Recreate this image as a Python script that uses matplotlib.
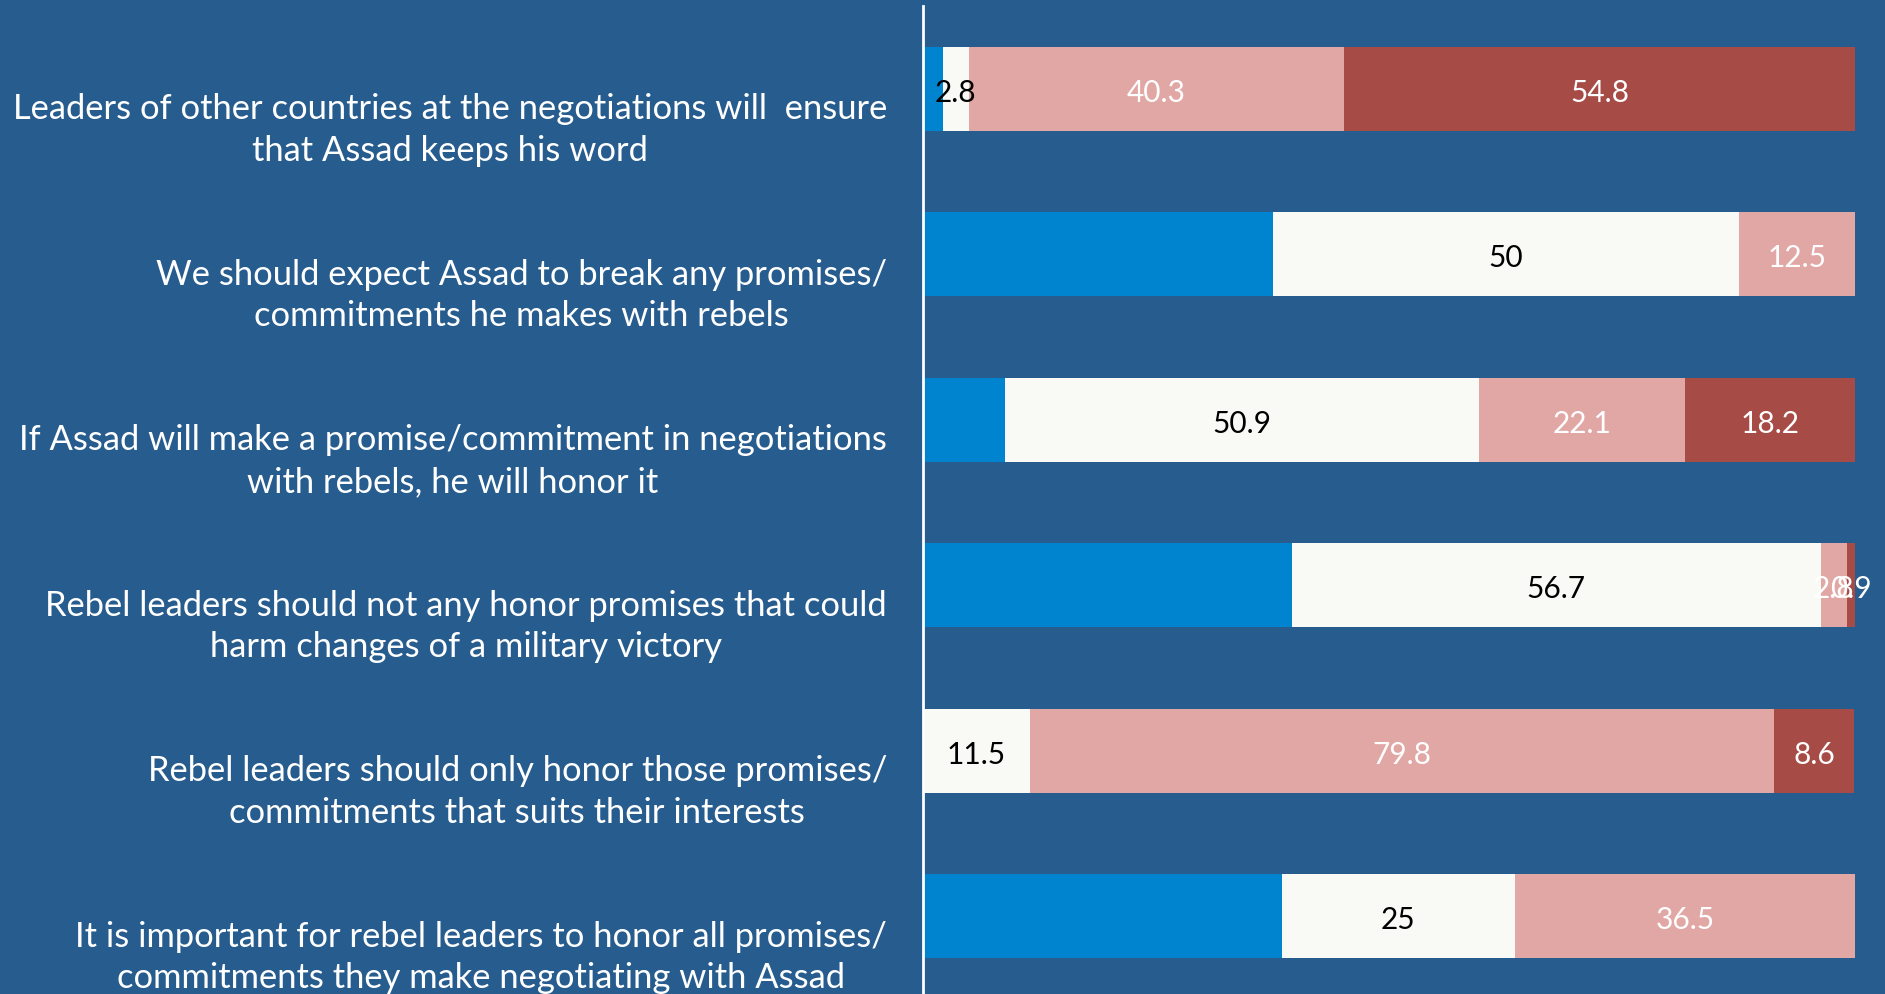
import numpy as np
import matplotlib.pyplot as plt

statements = [
    "Leaders of other countries at the negotiations will  ensure\nthat Assad keeps his word",
    "We should expect Assad to break any promises/\ncommitments he makes with rebels",
    "If Assad will make a promise/commitment in negotiations\nwith rebels, he will honor it",
    "Rebel leaders should not any honor promises that could\nharm changes of a military victory",
    "Rebel leaders should only honor those promises/\ncommitments that suits their interests",
    "It is important for rebel leaders to honor all promises/\ncommitments they make negotiating with Assad",
]

# percentages per answer category, one entry per statement
blue_vals = [2.1, 37.5, 8.8, 39.6, 0.0, 38.5]
white_vals = [2.8, 50.0, 50.9, 56.7, 11.5, 25.0]
pink_vals = [40.3, 12.5, 22.1, 2.8, 79.8, 36.5]
red_vals = [54.8, 0.0, 18.2, 0.9, 8.6, 0.0]

bg = "#275c8e"
series = [
    (blue_vals, "#0084cf", None),
    (white_vals, "#f9faf5", "black"),
    (pink_vals, "#e1a7a5", "white"),
    (red_vals, "#a64b45", "white"),
]

plt.rcParams['font.family'] = ['Lato', 'DejaVu Sans']

fig = plt.figure(figsize=(18.85, 9.94), dpi=100, facecolor=bg)
ax = fig.add_axes([923 / 1885, -5 / 994, 962 / 1885, 993 / 994])
ax.set_facecolor(bg)

y = np.arange(len(statements))
left = np.zeros(len(statements))
for vals, color, txtcolor in series:
    vals = np.array(vals)
    ax.barh(y, vals, left=left, height=0.51, color=color, edgecolor="none")
    if txtcolor is not None:
        for yi, l, v in zip(y, left, vals):
            if v > 0:
                ax.text(l + v / 2, yi + 0.01, f"{v:g}", ha="center",
                        va="center_baseline", color=txtcolor, fontsize=21.5)
    left += vals

ax.set_xlim(0, 100 * 962 / 932)
ax.set_ylim(len(statements) - 0.5, -0.5)

for yi, s in zip(y, statements):
    ax.text(-36 / 932 * 100, yi + 0.25, s, ha="right", va="center",
            multialignment="center", color="white", fontsize=24.8,
            linespacing=1.37)

for side in ["top", "right", "bottom"]:
    ax.spines[side].set_visible(False)
ax.spines["left"].set_color("white")
ax.spines["left"].set_linewidth(2)
ax.set_xticks([])
ax.set_yticks([])

fig.savefig("out.png", dpi=100, facecolor=bg)
